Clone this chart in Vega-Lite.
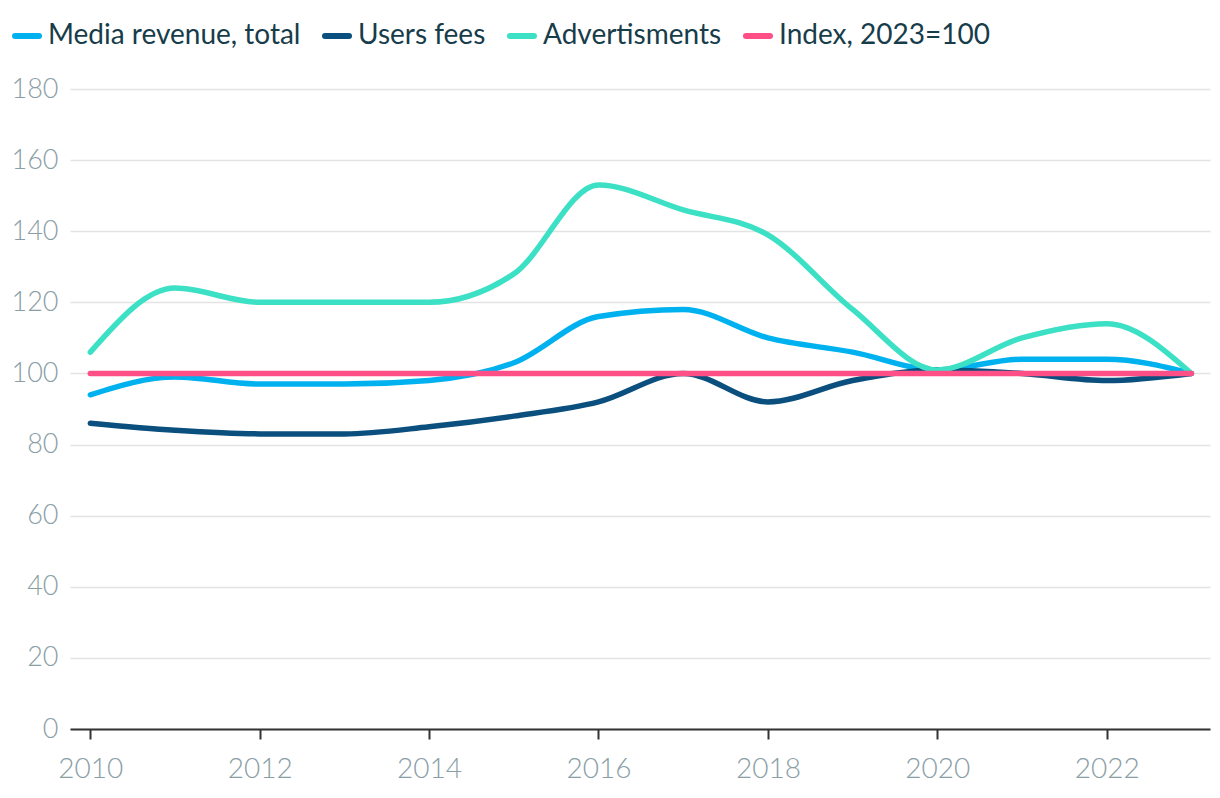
{
  "$schema": "https://vega.github.io/schema/vega-lite/v6.json",
  "autosize": {"type": "none"},
  "padding": {"left": 70, "top": 89, "right": 10, "bottom": 69},
  "width": 1140,
  "height": 640,
  "background": "white",
  "config": {
    "view": {"stroke": null},
    "font": "Lato"
  },
  "data": {
    "values": [
      {"year": 2010, "series": "Media revenue, total", "value": 94},
      {"year": 2011, "series": "Media revenue, total", "value": 99},
      {"year": 2012, "series": "Media revenue, total", "value": 97},
      {"year": 2013, "series": "Media revenue, total", "value": 97},
      {"year": 2014, "series": "Media revenue, total", "value": 98},
      {"year": 2015, "series": "Media revenue, total", "value": 103},
      {"year": 2016, "series": "Media revenue, total", "value": 116},
      {"year": 2017, "series": "Media revenue, total", "value": 118},
      {"year": 2018, "series": "Media revenue, total", "value": 110},
      {"year": 2019, "series": "Media revenue, total", "value": 106},
      {"year": 2020, "series": "Media revenue, total", "value": 101},
      {"year": 2021, "series": "Media revenue, total", "value": 104},
      {"year": 2022, "series": "Media revenue, total", "value": 104},
      {"year": 2023, "series": "Media revenue, total", "value": 100},
      {"year": 2010, "series": "Users fees", "value": 86},
      {"year": 2011, "series": "Users fees", "value": 84},
      {"year": 2012, "series": "Users fees", "value": 83},
      {"year": 2013, "series": "Users fees", "value": 83},
      {"year": 2014, "series": "Users fees", "value": 85},
      {"year": 2015, "series": "Users fees", "value": 88},
      {"year": 2016, "series": "Users fees", "value": 92},
      {"year": 2017, "series": "Users fees", "value": 100},
      {"year": 2018, "series": "Users fees", "value": 92},
      {"year": 2019, "series": "Users fees", "value": 98},
      {"year": 2020, "series": "Users fees", "value": 101},
      {"year": 2021, "series": "Users fees", "value": 100},
      {"year": 2022, "series": "Users fees", "value": 98},
      {"year": 2023, "series": "Users fees", "value": 100},
      {"year": 2010, "series": "Advertisments", "value": 106},
      {"year": 2011, "series": "Advertisments", "value": 124},
      {"year": 2012, "series": "Advertisments", "value": 120},
      {"year": 2013, "series": "Advertisments", "value": 120},
      {"year": 2014, "series": "Advertisments", "value": 120},
      {"year": 2015, "series": "Advertisments", "value": 128},
      {"year": 2016, "series": "Advertisments", "value": 153},
      {"year": 2017, "series": "Advertisments", "value": 146},
      {"year": 2018, "series": "Advertisments", "value": 139},
      {"year": 2019, "series": "Advertisments", "value": 118},
      {"year": 2020, "series": "Advertisments", "value": 101},
      {"year": 2021, "series": "Advertisments", "value": 110},
      {"year": 2022, "series": "Advertisments", "value": 114},
      {"year": 2023, "series": "Advertisments", "value": 100},
      {"year": 2010, "series": "Index, 2023=100", "value": 100},
      {"year": 2011, "series": "Index, 2023=100", "value": 100},
      {"year": 2012, "series": "Index, 2023=100", "value": 100},
      {"year": 2013, "series": "Index, 2023=100", "value": 100},
      {"year": 2014, "series": "Index, 2023=100", "value": 100},
      {"year": 2015, "series": "Index, 2023=100", "value": 100},
      {"year": 2016, "series": "Index, 2023=100", "value": 100},
      {"year": 2017, "series": "Index, 2023=100", "value": 100},
      {"year": 2018, "series": "Index, 2023=100", "value": 100},
      {"year": 2019, "series": "Index, 2023=100", "value": 100},
      {"year": 2020, "series": "Index, 2023=100", "value": 100},
      {"year": 2021, "series": "Index, 2023=100", "value": 100},
      {"year": 2022, "series": "Index, 2023=100", "value": 100},
      {"year": 2023, "series": "Index, 2023=100", "value": 100}
    ]
  },
  "mark": {"type": "line", "interpolate": "monotone", "strokeWidth": 5.5, "strokeCap": "round", "strokeJoin": "round"},
  "encoding": {
    "x": {
      "field": "year",
      "type": "quantitative",
      "scale": {"domain": [2009.76, 2023.22], "nice": false, "zero": false},
      "axis": {
        "values": [2010, 2012, 2014, 2016, 2018, 2020, 2022],
        "format": "d",
        "title": null,
        "grid": false,
        "domainColor": "#333333",
        "domainWidth": 2,
        "tickColor": "#333333",
        "tickWidth": 2,
        "tickSize": 10,
        "labelFont": "Lato",
        "labelFontWeight": 300,
        "labelFontSize": 28,
        "labelColor": "#8a9ea6",
        "labelPadding": 16
      }
    },
    "y": {
      "field": "value",
      "type": "quantitative",
      "scale": {"domain": [0, 180], "nice": false},
      "axis": {
        "values": [0, 20, 40, 60, 80, 100, 120, 140, 160, 180],
        "title": null,
        "domain": false,
        "ticks": false,
        "grid": true,
        "gridColor": "#e3e3e3",
        "gridWidth": 1.5,
        "labelFont": "Lato",
        "labelFontWeight": 300,
        "labelFontSize": 27,
        "labelColor": "#8a9ea6",
        "labelPadding": 12
      }
    },
    "color": {
      "field": "series",
      "type": "nominal",
      "sort": ["Media revenue, total", "Users fees", "Advertisments", "Index, 2023=100"],
      "scale": {
        "domain": ["Media revenue, total", "Users fees", "Advertisments", "Index, 2023=100"],
        "range": ["#00b1ef", "#0a4f7e", "#3ce0c4", "#ff4f87"]
      },
      "legend": {
        "title": null,
        "orient": "none",
        "legendX": -58,
        "legendY": -68,
        "direction": "horizontal",
        "symbolType": "stroke",
        "symbolSize": 576,
        "symbolStrokeWidth": 6,
        "labelFont": "Lato",
        "labelFontSize": 28,
        "labelColor": "#173c4a",
        "labelOffset": 6,
        "columnPadding": 12,
        "labelLimit": 400,
        "encode": {"symbols": {"update": {"strokeCap": {"value": "round"}}}}
      }
    },
    "order": {"field": "series"}
  }
}
